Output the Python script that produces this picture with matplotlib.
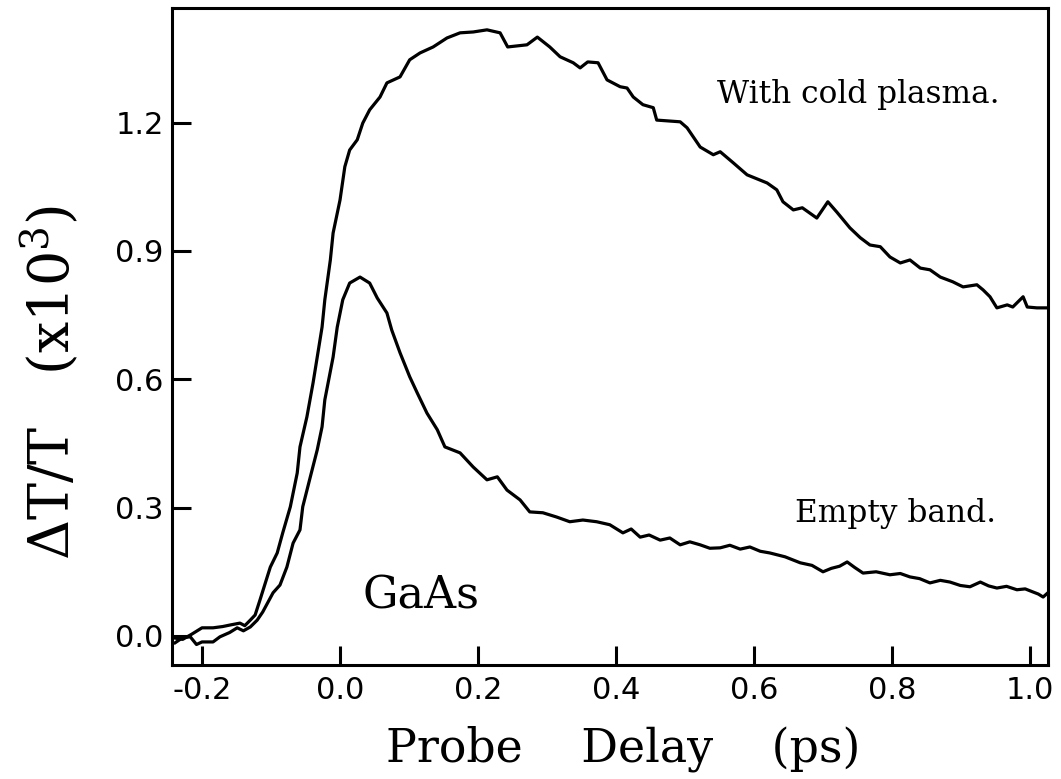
import matplotlib.pyplot as plt
import numpy as np

plt.rcParams['axes.unicode_minus'] = False
plt.rcParams['mathtext.fontset'] = 'dejavuserif'

# with cold plasma (upper trace)
x_cold = [-0.239, -0.228, -0.215, -0.200, -0.184, -0.170, -0.158, -0.145, -0.138, -0.130,
          -0.123, -0.116, -0.101, -0.091, -0.083, -0.072, -0.062, -0.058, -0.048, -0.039,
          -0.033, -0.026, -0.022, -0.014, -0.010, 0.000, 0.007, 0.014, 0.025, 0.033,
          0.043, 0.058, 0.068, 0.087, 0.101, 0.116, 0.135, 0.155, 0.174, 0.193,
          0.213, 0.232, 0.243, 0.271, 0.286, 0.304, 0.319, 0.338, 0.348, 0.359,
          0.374, 0.387, 0.406, 0.416, 0.425, 0.439, 0.454, 0.459, 0.493, 0.503,
          0.522, 0.541, 0.551, 0.570, 0.590, 0.619, 0.633, 0.642, 0.657, 0.670,
          0.691, 0.707, 0.720, 0.739, 0.754, 0.768, 0.783, 0.797, 0.812, 0.826,
          0.841, 0.855, 0.870, 0.888, 0.903, 0.923, 0.932, 0.942, 0.952, 0.967,
          0.975, 0.990, 0.996, 1.010, 1.026]
y_cold = [-0.005, -0.008, 0.004, 0.019, 0.019, 0.022, 0.026, 0.030, 0.024, 0.037,
          0.049, 0.084, 0.161, 0.194, 0.241, 0.302, 0.381, 0.442, 0.512, 0.592,
          0.652, 0.722, 0.786, 0.879, 0.942, 1.019, 1.097, 1.136, 1.160, 1.199,
          1.230, 1.260, 1.293, 1.307, 1.347, 1.363, 1.377, 1.398, 1.410, 1.412,
          1.417, 1.410, 1.377, 1.382, 1.400, 1.377, 1.354, 1.340, 1.328, 1.342,
          1.340, 1.300, 1.284, 1.281, 1.260, 1.242, 1.235, 1.206, 1.202, 1.188,
          1.143, 1.125, 1.132, 1.106, 1.078, 1.059, 1.043, 1.015, 0.996, 1.001,
          0.977, 1.015, 0.991, 0.954, 0.931, 0.914, 0.910, 0.886, 0.872, 0.879,
          0.860, 0.856, 0.839, 0.828, 0.816, 0.821, 0.809, 0.793, 0.767, 0.774,
          0.769, 0.793, 0.769, 0.767, 0.767]

# empty band (lower trace)
x_empty = [-0.239, -0.228, -0.217, -0.208, -0.200, -0.184, -0.174, -0.160, -0.149, -0.140,
           -0.130, -0.120, -0.112, -0.097, -0.087, -0.077, -0.068, -0.058, -0.054, -0.043,
           -0.033, -0.026, -0.022, -0.010, -0.004, 0.004, 0.014, 0.029, 0.043, 0.054,
           0.068, 0.075, 0.087, 0.101, 0.112, 0.126, 0.141, 0.152, 0.174, 0.193,
           0.213, 0.228, 0.242, 0.261, 0.275, 0.294, 0.314, 0.333, 0.352, 0.372,
           0.391, 0.410, 0.422, 0.435, 0.448, 0.464, 0.478, 0.493, 0.507, 0.522,
           0.536, 0.551, 0.565, 0.580, 0.594, 0.609, 0.623, 0.645, 0.667, 0.684,
           0.700, 0.712, 0.724, 0.735, 0.746, 0.758, 0.777, 0.797, 0.812, 0.826,
           0.840, 0.855, 0.870, 0.884, 0.899, 0.913, 0.928, 0.940, 0.952, 0.966,
           0.981, 0.993, 1.004, 1.012, 1.019, 1.026]
y_empty = [-0.016, -0.004, -0.002, -0.020, -0.014, -0.014, -0.002, 0.008, 0.019, 0.012,
           0.021, 0.037, 0.056, 0.101, 0.119, 0.161, 0.217, 0.248, 0.302, 0.372,
           0.435, 0.489, 0.552, 0.652, 0.722, 0.786, 0.825, 0.839, 0.825, 0.790,
           0.755, 0.715, 0.662, 0.606, 0.568, 0.521, 0.482, 0.442, 0.428, 0.395,
           0.365, 0.372, 0.341, 0.318, 0.290, 0.288, 0.278, 0.267, 0.271, 0.267,
           0.260, 0.241, 0.250, 0.231, 0.236, 0.224, 0.229, 0.213, 0.220, 0.213,
           0.205, 0.206, 0.212, 0.203, 0.208, 0.198, 0.194, 0.185, 0.171, 0.165,
           0.150, 0.158, 0.163, 0.173, 0.160, 0.147, 0.150, 0.143, 0.146, 0.138,
           0.134, 0.124, 0.130, 0.126, 0.118, 0.115, 0.126, 0.117, 0.112, 0.116,
           0.108, 0.110, 0.103, 0.098, 0.091, 0.101]

x_ticks = [-0.2, 0.0, 0.2, 0.4, 0.6, 0.8, 1.0]
y_ticks = [0.0, 0.3, 0.6, 0.9, 1.2]

fig = plt.figure(figsize=(10.61, 7.79), dpi=100)
ax = fig.add_axes([0.1621, 0.1463, 0.8256, 0.8434])

ax.plot(x_cold, y_cold, color='black', lw=2.3, solid_joinstyle='round')
ax.plot(x_empty, y_empty, color='black', lw=2.3, solid_joinstyle='round')

ax.set_xlim(-0.2435, 1.026)
ax.set_ylim(-0.068, 1.468)
ax.set_xticks(x_ticks)
ax.set_yticks(y_ticks)
ax.set_xticklabels([f"{v:.1f}" for v in x_ticks])
ax.set_yticklabels([f"{v:.1f}" for v in y_ticks])
ax.tick_params(direction='in', length=13.5, width=2.2, labelsize=22, pad=8)
ax.tick_params(axis='y', pad=6)
for s in ax.spines.values():
    s.set_linewidth(2.2)

serif = 'DejaVu Serif'
ax.set_xlabel("Probe    Delay    (ps)", family=serif, fontsize=33)
ax.xaxis.set_label_coords(0.515, -0.092)
ax.set_ylabel("ΔT/T   (x10$^3$)", family=serif, fontsize=40)
ax.yaxis.set_label_coords(-0.103, 0.43)

ax.text(0.546, 1.246, "With cold plasma.", family=serif, fontsize=22.5, va='baseline')
ax.text(0.659, 0.267, "Empty band.", family=serif, fontsize=22.5, va='baseline')
ax.text(0.032, 0.065, "GaAs", family=serif, fontsize=32, va='baseline')

fig.savefig("out.png", dpi=100)
